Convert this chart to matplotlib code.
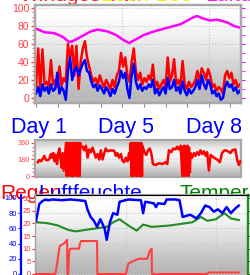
import numpy as np
import matplotlib
matplotlib.use('Agg')
import matplotlib.pyplot as plt
from matplotlib.ticker import MultipleLocator

plt.rcParams['font.family'] = ['Liberation Sans', 'DejaVu Sans']

# ---- panel 1: wind speed / gusts (left scale) and pressure (magenta) ----
gust = [12, 55, 10, 54, 15, 18, 12, 42, 15, 20, 12, 35, 14, 22, 18, 60, 45, 58, 25, 58,
        10, 40, 55, 63, 45, 35, 25, 18, 22, 15, 25, 18, 12, 20, 15, 10, 20, 12, 25, 30,
        50, 35, 45, 25, 18, 40, 55, 30, 20, 28, 15, 22, 18, 25, 20, 37, 12, 18, 10, 15,
        20, 12, 45, 18, 25, 43, 15, 20, 12, 41, 15, 10, 18, 12, 15, 20, 30, 18, 33, 28,
        20, 32, 25, 12, 15, 8, 12, 10, 5, 25, 30, 22, 28, 15, 20, 12, 15]
speed = [5, 12, 2, 15, 8, 12, 5, 15, 8, 10, 28, 5, 12, 8, -2, 30, 45, 20, 30, 35,
         25, 32, 38, 42, 30, 28, 18, 12, 15, 8, 14, 10, 5, 12, 8, 2, 10, 5, 12, 18,
         30, 22, 28, 10, 0, 25, 38, 18, 10, 15, 8, 12, 10, 15, 12, 20, 5, 10, 3, 8,
         12, 5, 22, 10, 12, 20, 8, 12, 5, 18, 8, 3, 10, 5, 8, 12, 20, 10, 25, 15,
         10, 20, 15, 5, 8, 2, 5, -2, 0, 12, 18, 12, 15, 8, 12, 5, 8]
press_day = [0, 0.39, 0.85, 1.23, 1.54, 1.69, 2.08, 2.54, 2.85, 3.31, 3.70, 4.08, 4.31,
             4.54, 5.0, 5.47, 6.08, 6.39, 6.70, 7.32, 7.47, 7.78, 8.09, 8.39, 8.86, 9.17, 9.47]
press = [77, 73, 72, 68, 62, 63, 68, 74, 76, 74, 70, 64, 61,
         64, 70, 74, 78, 80, 82, 90, 91, 88, 86, 87, 84, 80, 78]

# ---- panel 2: wind direction ----
dir_day = [0.08, 0.15, 0.23, 0.31, 0.38, 0.46, 0.54, 0.62, 0.69, 0.74, 0.80, 0.85, 0.92,
           0.97, 1.03, 1.08, 1.12, 1.19, 1.23, 1.28, 1.34,
           1.39, 1.42, 1.46, 1.49, 1.53, 1.56, 1.60, 1.63, 1.67, 1.70, 1.74, 1.77, 1.81,
           1.84, 1.88, 1.91, 1.95, 1.98, 2.02, 2.05, 2.08,
           2.16, 2.23, 2.31, 2.39, 2.46, 2.54, 2.62, 2.70, 2.77, 2.85, 2.93, 3.0, 3.08,
           3.16, 3.23, 3.31, 3.47, 3.62, 3.70, 3.77, 3.85, 3.93, 4.0, 4.08, 4.16, 4.24,
           4.31, 4.36,
           4.39, 4.42, 4.46, 4.49, 4.53, 4.56, 4.60, 4.63, 4.67, 4.70, 4.74, 4.77, 4.81,
           4.84, 4.88, 4.91, 4.93,
           4.97, 5.04, 5.11, 5.19, 5.27, 5.34, 5.42, 5.54, 5.70, 5.85, 6.01, 6.08, 6.16,
           6.27, 6.36, 6.47, 6.54, 6.62, 6.70,
           6.78, 6.81, 6.85, 6.88, 6.92, 6.95, 6.99, 7.02, 7.06, 7.09, 7.13, 7.16,
           7.24, 7.32, 7.39, 7.47, 7.55, 7.62, 7.70, 7.78, 7.86, 7.93, 8.01, 8.09, 8.24,
           8.39, 8.52, 8.62, 8.73, 8.86, 9.01, 9.09, 9.24, 9.32, 9.40, 9.47]
dir_deg = [150, 175, 160, 185, 220, 175, 170, 190, 240, 200, 250, 160, 230,
           130, 250, 300, 200, 90, 250, 60, 220,
           360, 0, 360, 10, 360, 0, 340, 360, 0, 360, 0, 360, 20, 360, 0, 360, 0, 360,
           0, 360, 330,
           320, 280, 330, 200, 290, 260, 310, 250, 200, 240, 180, 280, 180,
           250, 300, 270, 280, 275, 220, 250, 200, 240, 170, 150, 200, 160,
           250, 180,
           360, 0, 360, 0, 360, 10, 360, 0, 360, 0, 360, 0, 360, 0, 360, 0, 330,
           300, 250, 230, 280, 300, 250, 130, 120, 140, 130, 150, 130, 280,
           260, 300, 290, 320, 290, 330,
           0, 320, 10, 330, 0, 300, 20, 330, 0, 310, 40, 250,
           200, 250, 220, 260, 230, 280, 240, 270, 220, 260, 60, 230, 200,
           180, 150, 250, 280, 275, 250, 280, 290, 180, 120, 160]

# ---- panel 3: humidity (blue), temperature (green), rain (red) ----
hum_day = [0, 0.15, 0.3, 0.45, 0.55, 0.8, 1.2, 1.6, 2.0, 2.3, 2.4, 2.55, 2.7, 2.85, 3.0,
           3.2, 3.3, 3.45, 3.6, 3.8, 3.9, 4.3, 4.9, 5.0, 5.1, 5.5, 5.6, 5.7, 6.0, 6.1,
           6.5, 6.7, 6.85, 7.2, 7.5, 7.7, 7.9, 8.1, 8.3, 8.5, 8.7, 8.9, 9.1, 9.3, 9.47]
hum = [70, 92, 96, 98, 97, 98, 97, 98, 97, 96, 85, 75, 70, 62, 72,
       60, 45, 68, 80, 78, 95, 98, 97, 80, 95, 93, 88, 93, 92, 98,
       98, 97, 75, 78, 73, 80, 90, 88, 82, 85, 80, 88, 80, 86, 90]
temp_day = [0, 0.5, 1.0, 1.5, 1.85, 2.3, 2.8, 3.3, 3.6, 3.9, 4.3, 4.7, 5.0, 5.4, 5.9,
            6.3, 6.8, 7.3, 7.7, 8.0, 8.4, 8.8, 9.1, 9.47]
temp = [68, 67, 64, 58, 56, 58, 60, 62, 68, 72, 64, 57, 65, 62, 63,
        64, 66, 68, 75, 70, 72, 80, 73, 71]
rain_day = [0, 0.9, 1.0, 1.1, 1.3, 1.45, 1.46, 1.5, 1.55, 1.6, 2.0, 2.05, 2.1, 2.8, 2.85,
            2.86, 4.2, 4.3, 4.5, 4.8, 5.2, 5.3, 5.4, 5.41, 8.0, 8.05, 9.47]
rain = [0, 0, 5, 11, 12, 13.5, 0, 0, 9, 10, 10, 12, 13, 13, 13,
        0, 0, 4, 5, 6, 6, 9, 10, 0, 0, 0.6, 0.6]

day_labels = ['Day 1', 'Day 5', 'Day 8']

W, H = 251, 275


def box(l, t, r, b):
    return [l / W, (H - b) / H, (r - l) / W, (b - t) / H]


def gradient(ax, vals):
    g = np.array(vals).reshape(-1, 1)
    ax.imshow(g, cmap='gray', vmin=0, vmax=1, extent=(0, 1, 0, 1), transform=ax.transAxes,
              aspect='auto', zorder=0, interpolation='bicubic')


def frame(ax, col='#a8a8a8'):
    for s in ax.spines.values():
        s.set_color(col); s.set_linewidth(1.6)


fig = plt.figure(figsize=(W / 100, H / 100), dpi=100)
fig.patch.set_facecolor('white')

# cut-off legend text along the very top
fig.text(20 / W, 274 / H, 'Windgeschw.', color='#ff2020', fontsize=15, va='baseline', zorder=-5)
fig.text(100 / W, 274 / H, 'Böen', color='#f0f000', fontsize=15, va='baseline', zorder=-5)
fig.text(155 / W, 274 / H, 'Böe', color='#f0f000', fontsize=15, va='baseline', zorder=-5)
fig.text(205 / W, 274 / H, 'Luftd', color='#ff20ff', fontsize=15, va='baseline', zorder=-5)

# ---- panel 1 ----
ax1 = fig.add_axes(box(35, 5, 241, 103))
gradient(ax1, [1.0, 0.95, 0.88, 0.8, 0.72])
x1 = np.linspace(0, 9.45, len(gust))
ax1.plot(x1, gust, color='#ff0000', lw=1.8, zorder=3)
ax1.plot(x1, speed, color='#0000ff', lw=1.8, zorder=4)
ax1.plot(press_day, press, color='#ff00ff', lw=1.8, zorder=4)
ax1.set_xlim(-0.05, 9.5); ax1.set_ylim(-5.6, 103.3)
ax1.set_yticks([0, 20, 40, 60, 80, 100])
ax1.yaxis.set_minor_locator(MultipleLocator(5))
ax1.tick_params(axis='y', colors='#ff4040', labelsize=7.5, length=3, width=1, pad=1)
ax1.tick_params(axis='y', which='minor', colors='#ff4040', length=2)
ax1.set_xticks(range(10)); ax1.set_xticklabels([])
ax1.tick_params(axis='x', colors='#909090', length=3)
ax1.grid(axis='y', color='#c8c8c8', ls=':', lw=0.8)
for d in [4, 8]:
    ax1.axvline(d, color='#c0c0c0', ls=':', lw=0.8, zorder=1)
frame(ax1)
ax1r = ax1.twinx()
ax1r.set_ylim(ax1.get_ylim())
ax1r.set_yticks([0, 20, 40, 60, 80, 100]); ax1r.set_yticklabels([])
ax1r.yaxis.set_minor_locator(MultipleLocator(10))
ax1r.tick_params(axis='y', colors='#ff00ff', length=3, which='both')
frame(ax1r)

# day labels
for lab, xc in zip(day_labels, [39, 126, 214]):
    fig.text(xc / W, (H - 133) / H, lab, color='#0000ff', fontsize=15.5, ha='center', va='baseline')

# ---- panel 2 ----
ax2 = fig.add_axes(box(35, 140, 241, 177))
gradient(ax2, [0.78, 0.9, 0.96, 0.95, 0.9, 0.82, 0.7])
ax2.plot(dir_day, dir_deg, color='#ff0000', lw=1.8, zorder=3)
ax2.set_xlim(-0.05, 9.5); ax2.set_ylim(-10.9, 392.7)
ax2.set_yticks([0, 180, 360])
ax2.yaxis.set_minor_locator(MultipleLocator(45))
ax2.tick_params(axis='y', colors='#ff4040', labelsize=5.2, length=3, pad=1)
ax2.tick_params(axis='y', which='minor', colors='#ff4040', length=2)
ax2.set_xticks([])
ax2.grid(axis='y', color='#d0d0d0', ls=':', lw=0.8)
frame(ax2)
fig.text(246 / W, (H - 160) / H, 'Richt', color='#ff0000', fontsize=9, rotation=270,
         ha='left', va='center')

# ---- panel 3 ----
fig.text(0 / W, (H - 199) / H, 'Regen', color='#ff0000', fontsize=15, va='baseline', zorder=-5)
fig.text(38 / W, (H - 199) / H, 'Luftfeuchte', color='#0000ff', fontsize=15, va='baseline', zorder=-4)
fig.text(179 / W, (H - 199) / H, 'Temperatur', color='#008000', fontsize=15, va='baseline', zorder=-5)

ax3 = fig.add_axes(box(35, 195, 248, 280))
gradient(ax3, [1.0, 0.95, 0.87, 0.78, 0.7])
ax3.plot(hum_day, hum, color='#0000ff', lw=1.8, zorder=4)
ax3.plot(temp_day, temp, color='#228b22', lw=1.5, zorder=3)
ax3.set_xlim(-0.05, 9.9); ax3.set_ylim(-7.9, 103.9)
ax3.set_yticks([0, 20, 40, 60, 80, 100])
ax3.tick_params(axis='y', colors='#0000ff', labelsize=5.5, length=2, pad=1)
ax3.set_xticks([4.2, 8.4]); ax3.set_xticklabels([])
ax3.tick_params(axis='x', length=0)
ax3.grid(color='#c8c8c8', ls=':', lw=0.8)
frame(ax3)
ax3.spines['right'].set_color('#228b22')
ax3.spines['left'].set_color('#0000ff')
ax3.spines['left'].set_position(('outward', 10))
ax3r = ax3.twinx()
ax3r.set_ylim(-2.37, 31.2)
ax3r.set_yticks([0, 5, 10, 15, 20, 25, 30]); ax3r.set_yticklabels([])
ax3r.tick_params(axis='y', colors='#228b22', length=3)
ax3r.spines['right'].set_color('#228b22')
ax3r.spines['right'].set_linewidth(1.6)
ax3b = ax3.twinx()
ax3b.yaxis.set_ticks_position('left')
ax3b.plot(rain_day, rain, color='#ff4040', lw=1.5, zorder=3)
ax3b.set_ylim(-2.37, 31.2)
ax3b.set_yticks([0, 5, 10, 15, 20, 25, 30])
ax3b.tick_params(axis='y', colors='#ff3030', labelsize=5.5, length=2, pad=1, labelleft=True,
                 labelright=False)
for s in ax3b.spines.values():
    s.set_visible(False)
ax3b.spines['left'].set_visible(True)
ax3b.spines['left'].set_color('#a8a8a8')

fig.savefig('out.png', dpi=100)
